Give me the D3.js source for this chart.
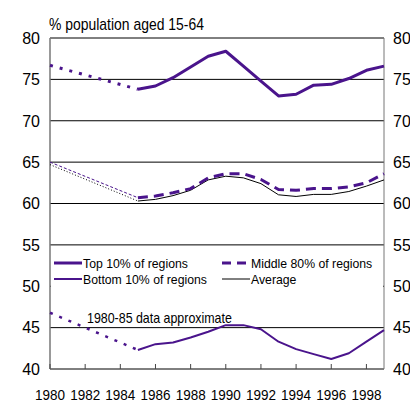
<!DOCTYPE html>
<html><head><meta charset="utf-8">
<script src="https://cdn.jsdelivr.net/npm/d3@7"></script>
<style>body{margin:0;background:#fff}svg{display:block}text{font-family:"Liberation Sans",Arial,sans-serif}</style>
</head><body><svg id="c" width="410" height="403"></svg>
<script>
const years = [1980,1985,1986,1987,1988,1989,1990,1991,1992,1993,1994,1995,1996,1997,1998,1999];
const top10 = [76.7,73.8,74.2,75.2,76.5,77.8,78.4,76.6,74.8,73.0,73.2,74.3,74.4,75.1,76.1,76.6];
const middle80 = [65.0,60.7,60.9,61.3,61.8,63.1,63.6,63.6,62.9,61.7,61.6,61.8,61.8,62.0,62.5,63.6];
const bottom10 = [46.8,42.3,43.0,43.2,43.8,44.5,45.3,45.3,44.8,43.3,42.4,41.8,41.2,41.9,43.3,44.7];
const average = [64.7,60.3,60.5,60.95,61.6,62.85,63.3,63.1,62.4,61.05,60.85,61.1,61.1,61.45,62.1,62.85];
const yTicks = [40,45,50,55,60,65,70,75,80];
const xTicks = [1980,1982,1984,1986,1988,1990,1992,1994,1996,1998];
const legendLabels = ["Top 10% of regions","Middle 80% of regions","Bottom 10% of regions","Average"];
const purple = "#4a148c";

const svg = d3.select("#c");
const x = d3.scaleLinear().domain([1980,1999]).range([50,384]);
const y = d3.scaleLinear().domain([40,80]).range([369,38]);

// condensed text: place at (px,py), squeeze horizontally so its width is target
function ctext(parent, px, py, str, fs, target, anchor){
  const t = parent.append("text").attr("font-size",fs).attr("text-anchor",anchor||"start").text(str);
  const w = t.node().getComputedTextLength();
  const sx = w>0 ? target/w : 1;
  t.attr("transform",`translate(${px},${py}) scale(${sx},1)`);
  return sx;
}

svg.append("g").selectAll("line").data(yTicks).join("line")
  .attr("x1",50).attr("x2",384).attr("y1",d=>y(d)).attr("y2",d=>y(d))
  .attr("stroke","#000").attr("stroke-width",1);

svg.append("line").attr("x1",50).attr("x2",50).attr("y1",38).attr("y2",369).attr("stroke","#777").attr("stroke-width",1.5);
svg.append("line").attr("x1",384).attr("x2",384).attr("y1",38).attr("y2",369).attr("stroke","#777").attr("stroke-width",1);

svg.append("g").selectAll("line").data(xTicks).join("line")
  .attr("x1",d=>x(d)).attr("x2",d=>x(d)).attr("y1",369).attr("y2",364)
  .attr("stroke","#444").attr("stroke-width",1);

// y labels
svg.append("g").selectAll("text").data(yTicks).join("text")
  .attr("x",40).attr("y",d=>y(d)).attr("dy","0.36em").attr("text-anchor","end")
  .attr("font-size",16).text(d=>d);
svg.append("g").selectAll("text").data(yTicks).join("text")
  .attr("x",393).attr("y",d=>y(d)).attr("dy","0.36em").attr("text-anchor","start")
  .attr("font-size",16).text(d=>d);

// x labels
const xg = svg.append("g");
xTicks.forEach(d=>ctext(xg, x(d), 400, String(d), 15.2, 30, "middle"));

// title
ctext(svg, 49, 30, "% population aged 15-64", 16, 155);

// legend background
svg.append("rect").attr("x",51).attr("y",252).attr("width",332).attr("height",44).attr("fill","#fff");

function draw(vals, solidStyle, dotStyle){
  const yrsE = years.slice(0,2), yrsL = years.slice(1);
  const le = d3.line().x((d,i)=>x(yrsE[i])).y(d=>y(d));
  const ll = d3.line().x((d,i)=>x(yrsL[i])).y(d=>y(d));
  const p1 = svg.append("path").attr("d",le(vals.slice(0,2))).attr("fill","none");
  Object.entries(dotStyle).forEach(([k,v])=>p1.attr(k,v));
  const p2 = svg.append("path").attr("d",ll(vals.slice(1))).attr("fill","none").attr("stroke-linejoin","round");
  Object.entries(solidStyle).forEach(([k,v])=>p2.attr(k,v));
}
draw(average,{stroke:"#000","stroke-width":1},{stroke:"#000","stroke-width":1,"stroke-dasharray":"1,2"});
draw(middle80,{stroke:purple,"stroke-width":3,"stroke-dasharray":"10,6"},{stroke:purple,"stroke-width":1,"stroke-dasharray":"3,2"});
draw(top10,{stroke:purple,"stroke-width":3},{stroke:purple,"stroke-width":3,"stroke-dasharray":"3,7"});
draw(bottom10,{stroke:purple,"stroke-width":2},{stroke:purple,"stroke-width":2.5,"stroke-dasharray":"3,7"});

// legend
const leg = [
  {x:54, y:263, stroke:purple, w:3, dash:null},
  {x:222, y:263, stroke:purple, w:3, dash:"9,6"},
  {x:54, y:279, stroke:purple, w:2, dash:null},
  {x:222, y:279, stroke:"#000", w:1, dash:null}
];
const lgG = svg.append("g");
const probe = lgG.append("text").attr("font-size",13).text(legendLabels[0]);
const lsx = 105/probe.node().getComputedTextLength();
probe.remove();
leg.forEach((d,i)=>{
  lgG.append("line").attr("x1",d.x).attr("x2",d.x+28).attr("y1",d.y).attr("y2",d.y)
    .attr("stroke",d.stroke).attr("stroke-width",d.w).attr("stroke-dasharray",d.dash);
  lgG.append("text").attr("font-size",13).attr("dy","0.36em").text(legendLabels[i])
    .attr("transform",`translate(${d.x+29},${d.y}) scale(${lsx},1)`);
});

ctext(svg, 87, 323, "1980-85 data approximate", 14, 145);
</script></body></html>
